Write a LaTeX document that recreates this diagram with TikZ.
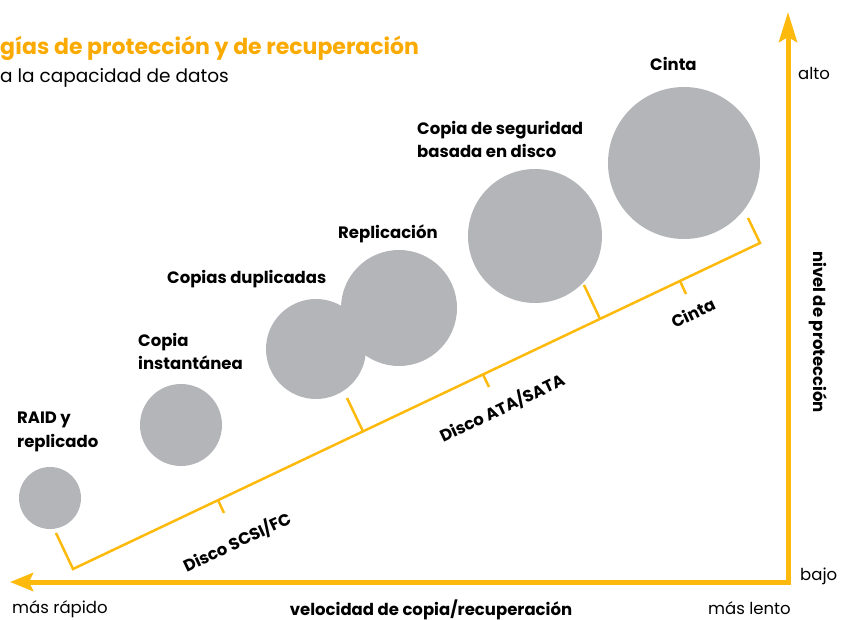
\documentclass[tikz,border=0pt]{standalone}
\usepackage{fontspec}
\setmainfont{Poppins}
\usetikzlibrary{arrows.meta,calc}
\definecolor{axisY}{RGB}{253,186,12}
\definecolor{titleO}{RGB}{250,170,0}
\definecolor{diskG}{RGB}{180,181,184}
\begin{document}
\begin{tikzpicture}[x=1pt,y=-1pt,
  disk/.style={circle,fill=diskG,inner sep=0pt,minimum size=#1},
  lbl/.style={font=\fontsize{16.5}{23.5}\selectfont\bfseries,align=left,anchor=base west,inner sep=0pt},
  plain/.style={font=\fontsize{16.5}{20}\selectfont,anchor=base west,inner sep=0pt},
  axis/.style={draw=axisY,line width=5pt,line join=miter},
  bracket/.style={draw=axisY,line width=2.5pt,line join=miter},
  tierlbl/.style={font=\fontsize{16.5}{20}\selectfont\bfseries,rotate=25.4,inner sep=0pt}]
\useasboundingbox (0,0) rectangle (841,620);
% title
\node[anchor=base west,inner sep=0pt,text=titleO,font=\fontsize{22}{26}\selectfont\bfseries] (title) at (0,55) {gías de protección y de recuperación};
\node[anchor=base west,inner sep=0pt,font=\fontsize{18.5}{22}\selectfont] (subtitle) at (0,83) {a la capacidad de datos};
% axes
\coordinate (O) at (788,582);
\coordinate (Xend) at (10,582);
\coordinate (Yend) at (788,12);
\draw[axis,{Stealth[length=30pt,width=18pt,inset=5pt]}-{Stealth[length=23pt,width=18pt,inset=4pt]}] (Yend) -- (O) -- (Xend);
% circles
\node[disk=62pt] (c1) at (50,498) {};
\node[disk=82pt] (c2) at (181,425) {};
\node[disk=100pt] (c3) at (316,349) {};
\node[disk=116pt] (c4) at (399,308) {};
\node[disk=134pt] (c5) at (535,236) {};
\node[disk=152pt] (c6) at (684,163) {};
% circle labels (anchor = baseline of last line)
\node[lbl] (l1) at (17,447) {RAID y\\replicado};
\node[lbl] (l2) at (138,370) {Copia\\instantánea};
\node[lbl] (l3) at (167,284) {Copias duplicadas};
\node[lbl] (l4) at (338,239) {Replicación};
\node[lbl] (l5) at (417,158) {Copia de seguridad\\basada en disco};
\node[lbl] (l6) at (650,71) {Cinta};
% bracket
\coordinate (L0) at (73,569);
\coordinate (L1) at (363,431.4);
\coordinate (L2) at (600,318.9);
\coordinate (L3) at (760,243);
\coordinate (T0) at (56,533);
\coordinate (T1) at (347,398);
\coordinate (T2) at (584,285);
\coordinate (T3) at (748,218);
\coordinate (M1) at (218,500.2);
\coordinate (M1b) at (224,513);
\coordinate (M2) at (483,374.5);
\coordinate (M2b) at (489,387);
\coordinate (M3) at (680,281);
\coordinate (M3b) at (686,294);
\draw[bracket] (T0) -- (L0) -- (L3) -- (T3);
\draw[bracket] (L1) -- (T1);
\draw[bracket] (L2) -- (T2);
\draw[bracket] (M1) -- (M1b);
\draw[bracket] (M2) -- (M2b);
\draw[bracket] (M3) -- (M3b);
\node[tierlbl] (k1) at (237,542) {Disco SCSI/FC};
\node[tierlbl] (k2) at (502,408) {Disco ATA/SATA};
\node[tierlbl] (k3) at (693,313) {Cinta};
% axis labels
\node[plain] (alto) at (798,80) {alto};
\node[plain] (bajo) at (800,580) {bajo};
\node[plain] (rapido) at (12,613) {más rápido};
\node[plain] (lento) at (708,614) {más lento};
\node[lbl,anchor=base] (xl) at (431,615) {velocidad de copia/recuperación};
\node[font=\fontsize{16.5}{20}\selectfont\bfseries,rotate=-90,inner sep=0pt] (yl) at (818,332) {nivel de protección};
\end{tikzpicture}
\end{document}
